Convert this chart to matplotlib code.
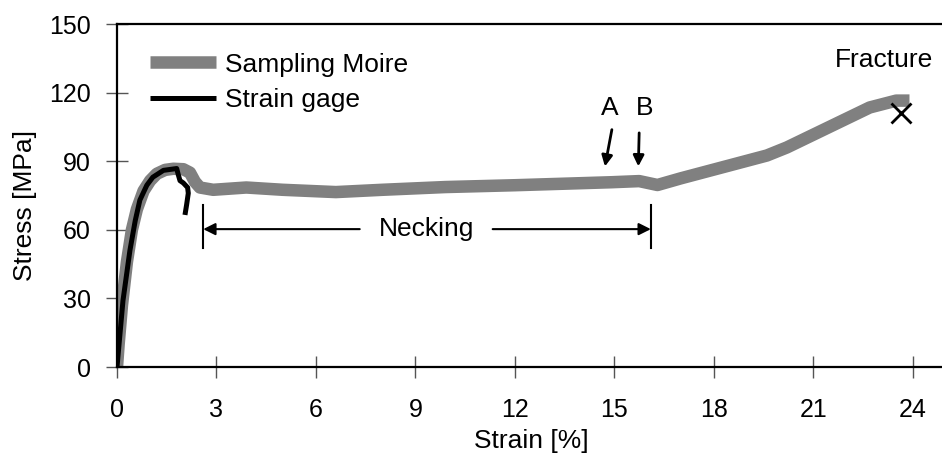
import matplotlib
matplotlib.use("Agg")
import matplotlib.pyplot as plt

plt.rcParams['font.family'] = ['Liberation Sans', 'DejaVu Sans']

# Sampling Moire curve (strain %, stress MPa)
moire_strain = [0, 0.05, 0.15, 0.3, 0.45, 0.6, 0.8, 1.0, 1.2, 1.45, 1.7, 2.0, 2.2, 2.35,
                2.5, 2.9, 3.9, 5.0, 6.6, 8.0, 9.9, 12.0, 14.9, 15.75, 16.3, 17.0,
                19.6, 20.2, 22.7, 23.5, 23.9]
moire_stress = [0, 10, 27, 46, 60, 69, 77, 81.5, 84.5, 86.2, 86.7, 86.5, 85, 81,
                78.5, 77.5, 78.5, 77.5, 76.5, 77.5, 78.7, 79.5, 80.8, 81.3, 79.6, 82.5,
                92.5, 96, 113.5, 116.5, 116.5]

# Strain gage curve
gage_strain = [0, 0.18, 0.39, 0.55, 0.69, 0.9, 1.08, 1.4, 1.8, 1.85, 1.9, 2.0, 2.13,
               2.15, 2.1, 2.05]
gage_stress = [0, 29, 51, 64, 73, 79.5, 83, 86, 86.8, 84, 81.5, 80.5, 78.5,
               76, 71, 66.5]

fracture = (23.65, 111)

x_ticks = [0, 3, 6, 9, 12, 15, 18, 21, 24]
y_ticks = [0, 30, 60, 90, 120, 150]

fs = 18
fs_text = 19

fig = plt.figure(figsize=(9.42, 4.59), dpi=100)
ax = fig.add_axes([0.1242, 0.2004, 0.880, 0.7473])

ax.plot(moire_strain, moire_stress, color='#808080', lw=9, solid_capstyle='butt',
        solid_joinstyle='round', label='Sampling Moire')
ax.plot(gage_strain, gage_stress, color='black', lw=3.6, solid_capstyle='butt',
        solid_joinstyle='round', label='Strain gage')
ax.plot(*fracture, marker='x', color='black', ms=15, mew=2, ls='none')

ax.set_xlim(0, 25)
ax.set_ylim(0, 150)
ax.set_xticks(x_ticks)
ax.set_yticks(y_ticks)
ax.tick_params(direction='inout', length=16, width=1, color='#555555', labelsize=fs)
ax.tick_params(axis='x', pad=14)
ax.tick_params(axis='y', pad=11)

for s in ['left', 'bottom', 'top']:
    ax.spines[s].set_linewidth(1.6)
ax.spines['right'].set_visible(False)

ax.set_xlabel('Strain [%]', fontsize=fs_text)
ax.set_ylabel('Stress [MPa]', fontsize=fs_text)
ax.xaxis.set_label_coords(0.4993, -0.18)
ax.yaxis.set_label_coords(-0.097, 0.47)

ax.legend(loc='center left', bbox_to_anchor=(0.0398, 0.8294), frameon=False,
          fontsize=fs_text, handlelength=2.5, handletextpad=0.36, labelspacing=0.45,
          borderpad=0, borderaxespad=0)

# annotations
ax.text(23.14, 134.2, 'Fracture', fontsize=fs_text, ha='center', va='center')
ax.text(14.86, 113.2, 'A', fontsize=fs_text, ha='center', va='center')
ax.text(15.92, 113.2, 'B', fontsize=fs_text, ha='center', va='center')
ax.annotate('', xy=(14.7, 86.5), xytext=(14.94, 105),
            arrowprops=dict(arrowstyle='-|>', lw=2, color='black', mutation_scale=16))
ax.annotate('', xy=(15.72, 86.5), xytext=(15.75, 103.6),
            arrowprops=dict(arrowstyle='-|>', lw=2, color='black', mutation_scale=16))

ax.text(9.35, 60.3, 'Necking', fontsize=fs_text, ha='center', va='center')
ax.annotate('', xy=(2.6, 60.3), xytext=(7.32, 60.3),
            arrowprops=dict(arrowstyle='-|>', lw=1.5, color='black', mutation_scale=18,
                            shrinkA=0, shrinkB=0))
ax.annotate('', xy=(16.1, 60.3), xytext=(11.33, 60.3),
            arrowprops=dict(arrowstyle='-|>', lw=1.5, color='black', mutation_scale=18,
                            shrinkA=0, shrinkB=0))
ax.plot([2.6, 2.6], [52, 71], color='black', lw=1.5)
ax.plot([16.1, 16.1], [52, 71], color='black', lw=1.5)

fig.savefig('out.png', dpi=100)
